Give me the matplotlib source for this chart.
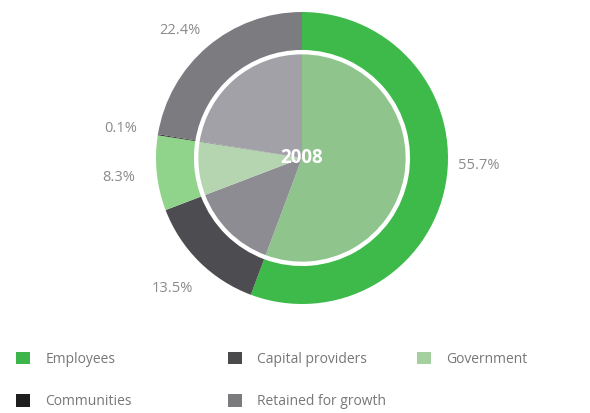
import matplotlib
matplotlib.use("Agg")
import matplotlib.pyplot as plt
from matplotlib.patches import Patch

plt.rcParams['font.family'] = ['Open Sans', 'DejaVu Sans']

categories = ['Employees', 'Capital providers', 'Government', 'Communities', 'Retained for growth']
shares = [55.7, 13.5, 8.3, 0.1, 22.4]
year = '2008'

ring_colors = ['#3dba4a', '#4d4c51', '#90d48c', '#1a1a1a', '#7c7b80']
inner_colors = ['#8fc58d', '#8d8c92', '#b5d5b0', '#6a6a6e', '#a3a1a8']
legend_colors = ['#3db54a', '#4a4a4c', '#a4d09f', '#1e1e1e', '#7b7b7d']

fig = plt.figure(figsize=(5.9, 4.13), dpi=100)
ax = fig.add_axes([156 / 590, 1 - 304 / 413, 292 / 590, 292 / 413])

# outer ring with the value labels outside
wedges, _, pct = ax.pie(shares, radius=1.0, colors=ring_colors, startangle=90,
                        counterclock=False, autopct='%.1f%%', pctdistance=1.26,
                        wedgeprops=dict(width=0.26, linewidth=0),
                        textprops=dict(color='#8a8a8a', fontsize=10.5))
# nudge a couple of labels off their default spot
x, y = pct[0].get_position()
pct[0].set_position((x - 0.03, y + 0.17))
x, y = pct[4].get_position()
pct[4].set_position((x - 0.02, y - 0.09))

# inner pie in lighter tones
ax.pie(shares, radius=0.71, colors=inner_colors, startangle=90,
       counterclock=False, wedgeprops=dict(linewidth=0))

ax.text(0, 0, year, ha='center', va='center', color='white',
        fontsize=13.5, fontweight='bold')
ax.set_xlim(-1, 1)
ax.set_ylim(-1, 1)
ax.set_aspect('equal')
ax.axis('off')

handles = [Patch(facecolor=c, edgecolor='none') for c in legend_colors]
columns = [[0, 3], [1, 4], [2]]
col_x = [10 / 590, 222 / 590, 411 / 590]
for idx, cx in zip(columns, col_x):
    fig.legend([handles[i] for i in idx], [categories[i] for i in idx],
               loc='upper left', bbox_to_anchor=(cx, 1 - 346 / 413),
               frameon=False, fontsize=10, labelcolor='#777777',
               handlelength=1.05, handleheight=1.05, handletextpad=1.1,
               labelspacing=1.95, borderaxespad=0)

fig.savefig('out.png', dpi=100, facecolor='white')
